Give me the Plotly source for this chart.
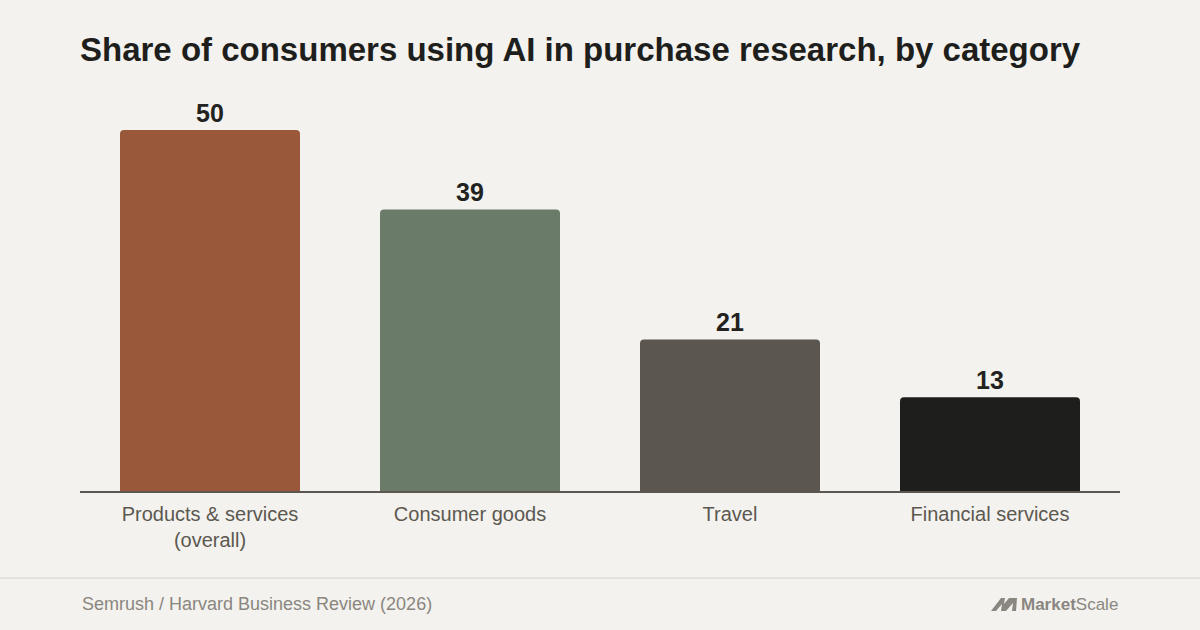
import plotly.graph_objects as go

categories = ["Products & services<br>(overall)", "Consumer goods", "Travel", "Financial services"]
shares = [50, 39, 21, 13]
bar_colors = ["#9a583b", "#6b7b6a", "#5b5650", "#1e1e1c"]

title_text = "Share of consumers using AI in purchase research, by category"
source_text = "Semrush / Harvard Business Review (2026)"

BG = "#f3f2ee"
FONT = "Liberation Sans"
W, H = 1200, 630
L, R, T, B = 80, 80, 94, 139
plot_h = H - T - B


def py(pixel_y):
    # pixel row -> paper y
    return (H - B - pixel_y) / plot_h


def px_(pixel_x):
    return (pixel_x - L) / (W - L - R)


fig = go.Figure()
fig.add_trace(go.Bar(
    x=categories,
    y=shares,
    marker=dict(color=bar_colors, line=dict(width=0), cornerradius=4),
    text=[str(v) for v in shares],
    textposition="outside",
    textfont=dict(family=FONT, size=25, color="#222220", weight=700),
    cliponaxis=False,
    hoverinfo="skip",
))

fig.update_layout(
    width=W, height=H,
    paper_bgcolor=BG, plot_bgcolor=BG,
    margin=dict(l=L, r=R, t=T, b=B),
    bargap=0.3077,
    showlegend=False,
    title=dict(
        text=title_text,
        x=0, xref="paper", xanchor="left",
        y=1 - 49 / H, yref="container", yanchor="middle",
        font=dict(family=FONT, size=33, color="#1e1e1c", weight=700),
    ),
    xaxis=dict(
        showline=True, linecolor="#5c5650", linewidth=2,
        showgrid=False, zeroline=False, ticks="",
        ticklabelstandoff=4,
        tickfont=dict(family=FONT, size=20, color="#5c5850"),
    ),
    yaxis=dict(range=[0, 55], visible=False, showgrid=False, zeroline=False),
)

# footer separator
fig.add_shape(type="line", xref="paper", yref="paper",
              x0=px_(0), x1=px_(W), y0=py(578), y1=py(578),
              line=dict(color="#e4e2dd", width=2))

fig.add_annotation(text=source_text, xref="paper", yref="paper",
                   x=0, y=py(604), xanchor="left", yanchor="middle",
                   showarrow=False,
                   font=dict(family=FONT, size=18, color="#8a8680"))

fig.add_annotation(text="<b>Market</b>Scale", xref="paper", yref="paper",
                   x=1, y=py(604), xanchor="right", yanchor="middle",
                   showarrow=False,
                   font=dict(family=FONT, size=17, color="#8a8680"))

# logo mark
fig.add_shape(type="path", xref="paper", yref="paper",
              path=(f"M {px_(991)},{py(611)} L {px_(1001)},{py(598)} L {px_(1005)},{py(598)} "
                    f"L {px_(1004)},{py(604)} L {px_(1009)},{py(598)} L {px_(1017)},{py(598)} "
                    f"L {px_(1016)},{py(611)} L {px_(1012)},{py(611)} L {px_(1013)},{py(603)} "
                    f"L {px_(1006)},{py(611)} L {px_(1001)},{py(611)} L {px_(1002)},{py(604)} "
                    f"L {px_(996)},{py(611)} Z"),
              fillcolor="#8a8680", line=dict(width=0))

fig.write_html("out.html", config={"displayModeBar": False},
               post_script="document.body.style.margin='0';")
